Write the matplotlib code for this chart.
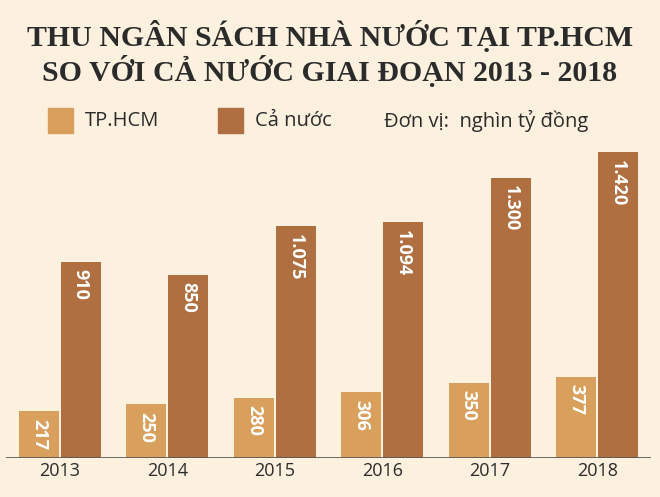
import numpy as np
import matplotlib.pyplot as plt
import matplotlib.patches as patches

years = ["2013", "2014", "2015", "2016", "2017", "2018"]
hcm = [217, 250, 280, 306, 350, 377]
nation = [910, 850, 1075, 1094, 1300, 1420]
hcm_labels = ["217", "250", "280", "306", "350", "377"]
nation_labels = ["910", "850", "1.075", "1.094", "1.300", "1.420"]

bg = "#fcf0df"
c_hcm = "#d8a05c"
c_nat = "#af6f41"
dark = "#2b2b2b"

fig = plt.figure(figsize=(6.6, 4.97), dpi=100, facecolor=bg)
ax = fig.add_axes([6 / 660, 1 - 458 / 497, 645 / 660, 1500 * 0.2155 / 497])
ax.patch.set_alpha(0)

x = np.arange(len(years))
w = 0.37
ax.bar(x - 0.195, hcm, w, color=c_hcm)
ax.bar(x + 0.195, nation, w, color=c_nat)
for i in range(len(years)):
    ax.text(x[i] - 0.195, hcm[i] - 35, hcm_labels[i], rotation=-90, ha="center", va="top",
            color="white", fontsize=13, fontweight="bold", family="Open Sans")
    ax.text(x[i] + 0.195, nation[i] - 35, nation_labels[i], rotation=-90, ha="center", va="top",
            color="white", fontsize=13, fontweight="bold", family="Open Sans")

ax.set_xlim(-0.5, 5.5)
ax.set_ylim(0, 1500)
ax.axis("off")
ax.axhline(0, color="#555555", lw=1.2)
for i, y in enumerate(years):
    ax.text(x[i], -62, y, ha="center", va="center", fontsize=13, color=dark, family="Open Sans")

fig.text(0.5, 1 - 36 / 497, "THU NGÂN SÁCH NHÀ NƯỚC TẠI TP.HCM", ha="center", va="center",
         fontsize=21.5, fontweight="bold", family="Liberation Serif", color=dark)
fig.text(0.5, 1 - 71 / 497, "SO VỚI CẢ NƯỚC GIAI ĐOẠN 2013 - 2018", ha="center", va="center",
         fontsize=21.5, fontweight="bold", family="Liberation Serif", color=dark)

for px, col in [(48, c_hcm), (218, c_nat)]:
    fig.patches.append(patches.Rectangle((px / 660, 1 - 133 / 497), 25 / 660, 25 / 497,
                                         transform=fig.transFigure, color=col))
fig.text(85 / 660, 1 - 121 / 497, "TP.HCM", va="center", fontsize=14.5, family="Open Sans", color=dark)
fig.text(255 / 660, 1 - 121 / 497, "Cả nước", va="center", fontsize=14.5, family="Open Sans", color=dark)
fig.text(384 / 660, 1 - 121 / 497, "Đơn vị:  nghìn tỷ đồng", va="center", fontsize=14.5,
         family="Open Sans", color=dark)

fig.savefig("out.png", dpi=100, facecolor=bg)
